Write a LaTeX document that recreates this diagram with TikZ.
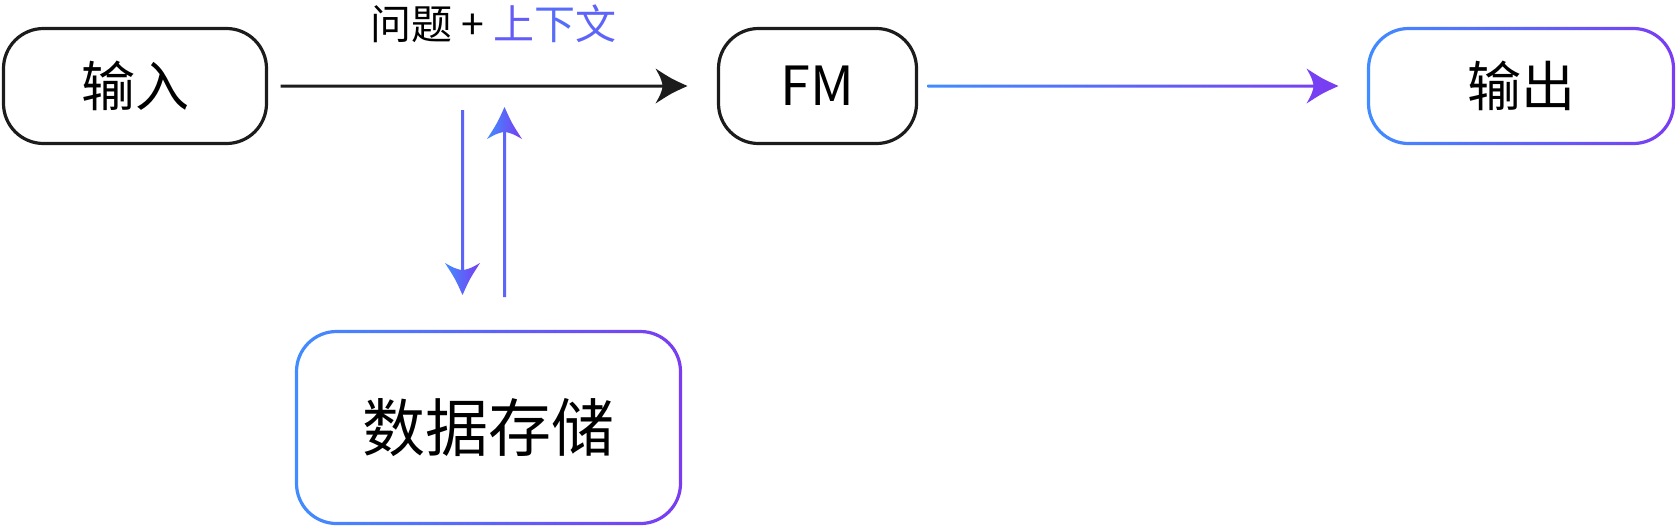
\documentclass[tikz,border=0pt]{standalone}
\usepackage{fontspec}
\setmainfont{Noto Sans CJK SC}
\usetikzlibrary{arrows.meta,positioning,calc}
\definecolor{gblue}{HTML}{418CFF}
\definecolor{gviolet}{HTML}{7A3CF2}
\definecolor{ink}{HTML}{1C1C1C}
% arrow outlines (shaft + curved head), s = start, e = tip
\newcommand{\arrR}[2]{($(#1)+(0,.75pt)$) -- ($(#2)+(-12.5pt,.75pt)$) .. controls ($(#2)+(-13.5pt,4.3pt)$) .. ($(#2)+(-16pt,8.75pt)$) .. controls ($(#2)+(-8pt,3.6pt)$) .. (#2) .. controls ($(#2)+(-8pt,-3.6pt)$) .. ($(#2)+(-16pt,-8.75pt)$) .. controls ($(#2)+(-13.5pt,-4.3pt)$) .. ($(#2)+(-12.5pt,-.75pt)$) -- ($(#1)+(0,-.75pt)$) -- cycle}
\newcommand{\arrD}[2]{($(#1)+(.75pt,0)$) -- ($(#2)+(.75pt,12.5pt)$) .. controls ($(#2)+(4.3pt,13.5pt)$) .. ($(#2)+(8.75pt,16pt)$) .. controls ($(#2)+(3.6pt,8pt)$) .. (#2) .. controls ($(#2)+(-3.6pt,8pt)$) .. ($(#2)+(-8.75pt,16pt)$) .. controls ($(#2)+(-4.3pt,13.5pt)$) .. ($(#2)+(-.75pt,12.5pt)$) -- ($(#1)+(-.75pt,0)$) -- cycle}
\newcommand{\arrU}[2]{($(#1)+(.75pt,0)$) -- ($(#2)+(.75pt,-12.5pt)$) .. controls ($(#2)+(4.3pt,-13.5pt)$) .. ($(#2)+(8.75pt,-16pt)$) .. controls ($(#2)+(3.6pt,-8pt)$) .. (#2) .. controls ($(#2)+(-3.6pt,-8pt)$) .. ($(#2)+(-8.75pt,-16pt)$) .. controls ($(#2)+(-4.3pt,-13.5pt)$) .. ($(#2)+(-.75pt,-12.5pt)$) -- ($(#1)+(-.75pt,0)$) -- cycle}
% gradient frame round a node
\newcommand{\ring}[1]{\shade[left color=gblue,right color=gviolet,even odd rule,rounded corners=20.8pt]
 ([shift={(-.8pt,-.8pt)}]#1.south west) rectangle ([shift={(.8pt,.8pt)}]#1.north east)
 [rounded corners=19.2pt] ([shift={(.8pt,.8pt)}]#1.south west) rectangle ([shift={(-.8pt,-.8pt)}]#1.north east);}

\begin{document}
\begin{tikzpicture}[
 node distance=1cm and 226pt,
 box/.style={draw=ink,line width=1.6pt,rounded corners=20pt,minimum height=57.5pt,outer sep=0pt,font=\fontsize{27}{30}\selectfont},
 gbox/.style={box,draw=none},
 lbl/.style={inner sep=0pt,font=\fontsize{20.5}{23}\selectfont},
 grad/.style={left color=gblue,right color=gviolet}
]
\useasboundingbox (0,0) rectangle (840pt,-263.5pt);
\node[box,minimum width=131.5pt] (in) at (67.5pt,-43pt) {输入};
\node[box,minimum width=99pt,right=of in] (fm) {FM};
\node[gbox,minimum width=152.5pt,right=of fm] (out) {输出};
\node[gbox,minimum width=192pt,minimum height=96pt,font=\fontsize{31.5}{34}\selectfont] (st) at (244.25pt,-213.75pt) {数据存储};
\ring{out}
\ring{st}
% query line
\coordinate (q0) at ($(in.east)+(7pt,0)$);
\coordinate (q1) at ($(fm.west)+(-15.5pt,0)$);
\fill[ink] \arrR{q0}{q1};
\node[lbl,anchor=base west] (qlab) at ($(q0)!.5!(q1)+(-57pt,23.5pt)$) {问题 + {\color{gblue!40!gviolet}上}{\color{gblue!60!gviolet}下}{\color{gblue!50!gviolet}文}};
% answer line
\coordinate (a0) at ($(fm.east)+(5.5pt,0)$);
\coordinate (a1) at ($(out.west)+(-15pt,0)$);
\shade[grad] \arrR{a0}{a1};
% store round trip
\coordinate (d0) at ($(st.north)+(-13pt,110.75pt)$);
\coordinate (d1) at ($(st.north)+(-13pt,18.25pt)$);
\coordinate (u0) at ($(st.north)+(8pt,17.25pt)$);
\coordinate (u1) at ($(st.north)+(8pt,112.25pt)$);
\shade[grad] \arrD{d0}{d1};
\shade[grad] \arrU{u0}{u1};
\end{tikzpicture}
\end{document}
